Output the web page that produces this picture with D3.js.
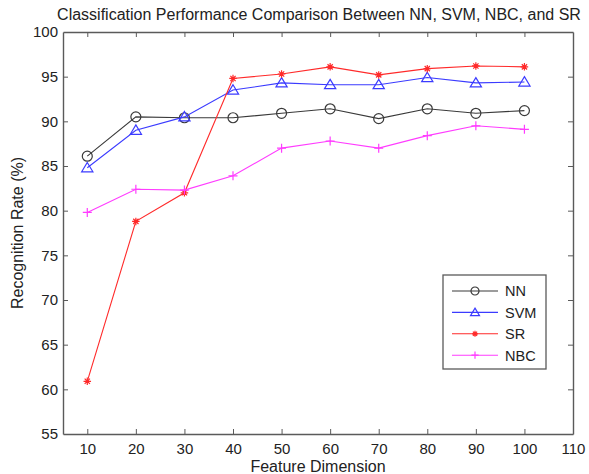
<!DOCTYPE html>
<html>
<head>
<meta charset="utf-8">
<script src="https://cdn.jsdelivr.net/npm/d3@7"></script>
<style>
  body { margin: 0; background: #fff; }
  text { font-family: "Liberation Sans", Arial, sans-serif; fill: #222; }
</style>
</head>
<body>
<script>
// data
var dims = [10, 20, 30, 40, 50, 60, 70, 80, 90, 100];
var nn  = [86.1, 90.5, 90.4, 90.4, 90.9, 91.4, 90.3, 91.4, 90.9, 91.2];
var svm = [84.8, 89.0, 90.5, 93.5, 94.3, 94.1, 94.1, 94.9, 94.3, 94.4];
var sr  = [60.9, 78.8, 82.0, 94.8, 95.3, 96.1, 95.2, 95.9, 96.2, 96.1];
var nbc = [79.8, 82.4, 82.3, 83.9, 87.0, 87.8, 87.0, 88.4, 89.5, 89.1];
var seriesNames = ["NN", "SVM", "SR", "NBC"];
var xTicks = [10, 20, 30, 40, 50, 60, 70, 80, 90, 100, 110];
var yTicks = [55, 60, 65, 70, 75, 80, 85, 90, 95, 100];

var width = 589, height = 474;
var pad = {left: 63, right: 573, top: 32, bottom: 434};

var series = [
  {name: "NN",  values: nn,  color: "#3a3a3a", marker: "circle"},
  {name: "SVM", values: svm, color: "#3b3bff", marker: "triangle"},
  {name: "SR",  values: sr,  color: "#ff2a2a", marker: "star"},
  {name: "NBC", values: nbc, color: "#ff3cff", marker: "plus"}
];

var x = d3.scaleLinear().domain([5, 110]).range([pad.left, pad.right]);
var y = d3.scaleLinear().domain([55, 100]).range([pad.bottom, pad.top]);

var svg = d3.select("body").append("svg")
    .attr("width", width)
    .attr("height", height);

// title
svg.append("text")
    .attr("x", (pad.left + pad.right) / 2 + 1)
    .attr("y", 20)
    .attr("text-anchor", "middle")
    .attr("font-size", "16px")
    .text("Classification Performance Comparison Between NN, SVM, NBC, and SR");

// axes: ticks pointing inward, on all four sides
var axisCol = "#5a5a5a";
var gB = svg.append("g").attr("transform", "translate(0," + pad.bottom + ")")
    .call(d3.axisBottom(x).tickValues(xTicks).tickSizeInner(-5).tickSizeOuter(0).tickPadding(9));
var gL = svg.append("g").attr("transform", "translate(" + pad.left + ",0)")
    .call(d3.axisLeft(y).tickValues(yTicks).tickSizeInner(-5).tickSizeOuter(0).tickPadding(5));
var gT = svg.append("g").attr("transform", "translate(0," + pad.top + ")")
    .call(d3.axisTop(x).tickValues(xTicks).tickSizeInner(-5).tickSizeOuter(0).tickFormat(""));
var gR = svg.append("g").attr("transform", "translate(" + pad.right + ",0)")
    .call(d3.axisRight(y).tickValues(yTicks).tickSizeInner(-5).tickSizeOuter(0).tickFormat(""));

[gB, gL, gT, gR].forEach(function(g) {
  g.select(".domain").attr("stroke", axisCol).attr("stroke-width", 1.4);
  g.selectAll(".tick line").attr("stroke", axisCol);
  g.selectAll(".tick text").attr("font-size", "15px")
      .attr("font-family", "Liberation Sans, Arial, sans-serif").attr("fill", "#222");
});
// hide the ticks sitting on the corners
gB.selectAll(".tick").filter(function(d) { return d === 110; }).select("line").remove();
gT.selectAll(".tick").filter(function(d) { return d === 110; }).remove();
gL.selectAll(".tick").filter(function(d) { return d === 55 || d === 100; }).select("line").remove();
gR.selectAll(".tick").filter(function(d) { return d === 55 || d === 100; }).remove();

// axis titles
svg.append("text")
    .attr("x", (pad.left + pad.right) / 2)
    .attr("y", 472)
    .attr("text-anchor", "middle")
    .attr("font-size", "16px")
    .text("Feature Dimension");

svg.append("text")
    .attr("transform", "translate(23," + ((pad.top + pad.bottom) / 2) + ") rotate(-90)")
    .attr("text-anchor", "middle")
    .attr("font-size", "16px")
    .text("Recognition Rate (%)");

function drawMarker(g, type, color, size) {
  if (type === "circle") {
    g.append("circle").attr("r", size).attr("fill", "none")
        .attr("stroke", color).attr("stroke-width", 1.2);
  } else if (type === "triangle") {
    var s = size * 1.07;
    g.append("path").attr("d", "M0," + (-s) + "L" + (s * 1.05) + "," + (s * 0.75) + "L" + (-s * 1.05) + "," + (s * 0.75) + "Z")
        .attr("fill", "none").attr("stroke", color).attr("stroke-width", 1.2);
  } else if (type === "star") {
    var r = size * 0.75;
    g.append("path")
        .attr("d", "M" + (-r) + ",0H" + r + "M0," + (-r) + "V" + r +
                   "M" + (-r * 0.7) + "," + (-r * 0.7) + "L" + (r * 0.7) + "," + (r * 0.7) +
                   "M" + (-r * 0.7) + "," + (r * 0.7) + "L" + (r * 0.7) + "," + (-r * 0.7))
        .attr("stroke", color).attr("stroke-width", 1.2);
    g.append("circle").attr("r", 1.6).attr("fill", color);
  } else if (type === "plus") {
    var p = size * 0.9;
    g.append("path").attr("d", "M" + (-p) + ",0H" + p + "M0," + (-p) + "V" + p)
        .attr("stroke", color).attr("stroke-width", 1.2);
  }
}

var line = d3.line()
    .x(function(d, i) { return x(dims[i]); })
    .y(function(d) { return y(d); });

var plot = svg.append("g");
series.forEach(function(s) {
  plot.append("path")
      .datum(s.values)
      .attr("d", line)
      .attr("fill", "none")
      .attr("stroke", s.color)
      .attr("stroke-width", 1.1);
  s.values.forEach(function(v, i) {
    var g = plot.append("g").attr("transform", "translate(" + x(dims[i]) + "," + y(v) + ")");
    drawMarker(g, s.marker, s.color, 5);
  });
});

// legend
var legend = svg.append("g").attr("transform", "translate(443,275)");
legend.append("rect")
    .attr("width", 103).attr("height", 94)
    .attr("fill", "#fff").attr("stroke", axisCol).attr("stroke-width", 1.3);
series.forEach(function(s, i) {
  var ly = 16 + i * 21.4;
  legend.append("line")
      .attr("x1", 9).attr("x2", 55).attr("y1", ly).attr("y2", ly)
      .attr("stroke", s.color).attr("stroke-width", 1.1);
  var m = legend.append("g").attr("transform", "translate(32," + ly + ")");
  drawMarker(m, s.marker, s.color, 4);
  legend.append("text")
      .attr("x", 62).attr("y", ly + 5.3)
      .attr("font-size", "14.5px")
      .text(seriesNames[i]);
});
</script>
</body>
</html>
